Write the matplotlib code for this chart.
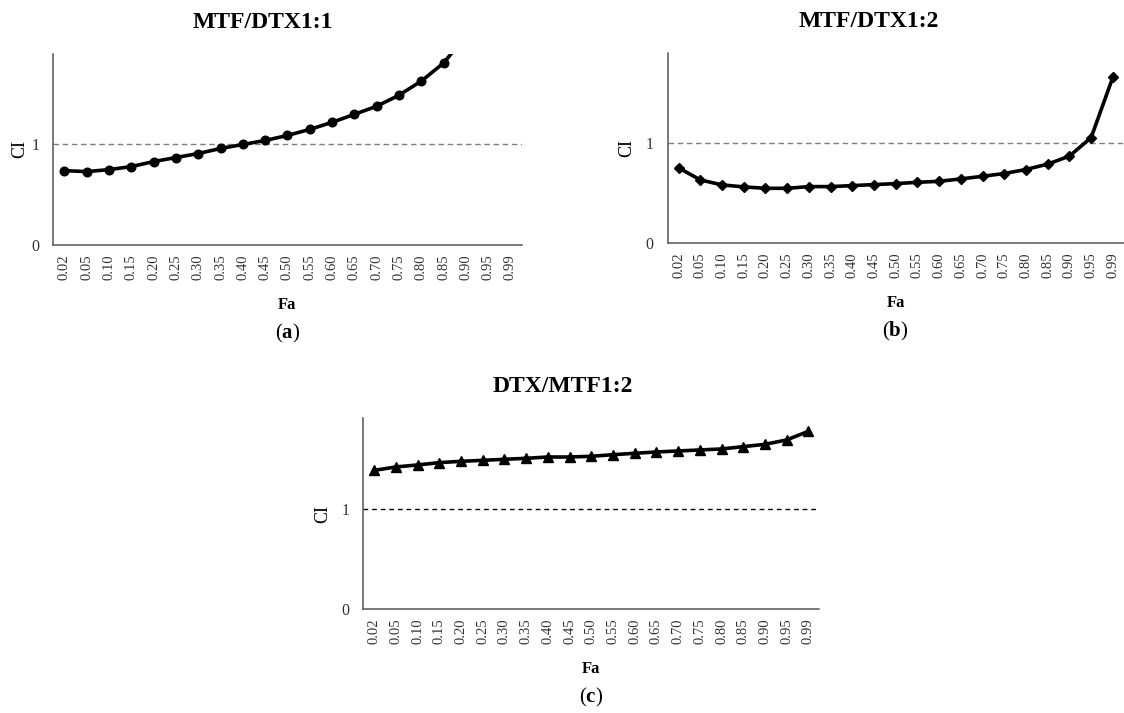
import numpy as np
import matplotlib
matplotlib.use("Agg")
import matplotlib.pyplot as plt

plt.rcParams['font.family'] = ['Liberation Serif', 'DejaVu Serif']
plt.rcParams['mathtext.fontset'] = 'custom'
plt.rcParams['mathtext.rm'] = 'Liberation Serif'
plt.rcParams['mathtext.bf'] = 'Liberation Serif:bold'

# category labels on x axis (Fa)
fa_labels = ["0.02", "0.05", "0.10", "0.15", "0.20", "0.25", "0.30", "0.35",
             "0.40", "0.45", "0.50", "0.55", "0.60", "0.65", "0.70", "0.75",
             "0.80", "0.85", "0.90", "0.95", "0.99"]

# CI values (last points of MTF/DTX1:1 fall above the plot)
ci_mtf_dtx_11 = [0.74, 0.73, 0.75, 0.78, 0.83, 0.87, 0.91, 0.96, 1.00, 1.04,
                 1.09, 1.15, 1.22, 1.30, 1.38, 1.49, 1.63, 1.81, 2.08, 2.60, 3.90]
ci_mtf_dtx_12 = [0.755, 0.634, 0.584, 0.564, 0.55, 0.55, 0.567, 0.567, 0.577, 0.587,
                 0.597, 0.61, 0.62, 0.644, 0.67, 0.698, 0.738, 0.792, 0.872, 1.057, 1.66]
ci_dtx_mtf_12 = [1.382, 1.416, 1.436, 1.459, 1.472, 1.482, 1.492, 1.502, 1.515, 1.515,
                 1.522, 1.538, 1.552, 1.565, 1.575, 1.585, 1.595, 1.618, 1.641, 1.685, 1.771]

titles = ["MTF/DTX1:1", "MTF/DTX1:2", "DTX/MTF1:2"]
panel_tags = ["a", "b", "c"]

fig = plt.figure(figsize=(11.24, 7.13), dpi=100)

W, H = 1124.0, 713.0
# left, bottom(px from top), width, height in pixels
rects = [(53.3, 245.0, 468.3, 191.0),
         (667.7, 243.3, 456.0, 190.0),
         (363.3, 609.3, 456.0, 191.0)]
markers = [dict(marker='o', markersize=6.2),
           dict(marker='D', markersize=4.6),
           dict(marker='^', markersize=6.6)]
ref_colors = ['#808080', '#808080', '#000000']
ref_dashes = [(4.0, 2.6), (4.0, 2.6), (3.4, 2.8)]
series = [ci_mtf_dtx_11, ci_mtf_dtx_12, ci_dtx_mtf_12]
title_x = [0.447, 0.44, 0.437]
cil_x = [-0.072, -0.09, -0.09]

x = np.arange(len(fa_labels))

for i in range(3):
    l, b, w, h = rects[i]
    ax = fig.add_axes([l / W, (H - b) / H, w / W, h / H])
    ax.axhline(1, color=ref_colors[i], lw=1.0, linestyle=(0, ref_dashes[i]), zorder=1)
    ax.plot(x, series[i], color='black', lw=2.6, markerfacecolor='black',
            markeredgecolor='black', zorder=3, **markers[i])
    ax.set_xlim(-0.5, len(fa_labels) - 0.5)
    ax.set_ylim(0, 1.9)
    ax.set_xticks(x)
    ax.set_xticklabels(fa_labels, rotation=90, fontsize=10.5, color='#333333')
    ax.set_yticks([0, 1])
    ax.set_yticklabels(["0", "1"], fontsize=11.5, color='#333333')
    ax.tick_params(axis='x', length=0, pad=6.5)
    ax.tick_params(axis='y', length=0, pad=10)
    for s in ['top', 'right']:
        ax.spines[s].set_visible(False)
    for s in ['left', 'bottom']:
        ax.spines[s].set_color('#555555')
        ax.spines[s].set_linewidth(1.1)
    ax.set_ylabel("CI", fontsize=13, va='center')
    ax.yaxis.set_label_coords(cil_x[i], 0.5)
    ax.text(title_x[i], 1.167, titles[i], transform=ax.transAxes, ha='center',
            va='center', fontsize=17, fontweight='bold')
    ax.text(0.5, -0.312, "Fa", transform=ax.transAxes, ha='center', va='center',
            fontsize=12, fontweight='bold')
    ax.text(0.5, -0.462, "(" + r"$\mathbf{" + panel_tags[i] + "}$" + ")",
            transform=ax.transAxes, ha='center', va='center', fontsize=15)

fig.savefig("out.png", dpi=100)
